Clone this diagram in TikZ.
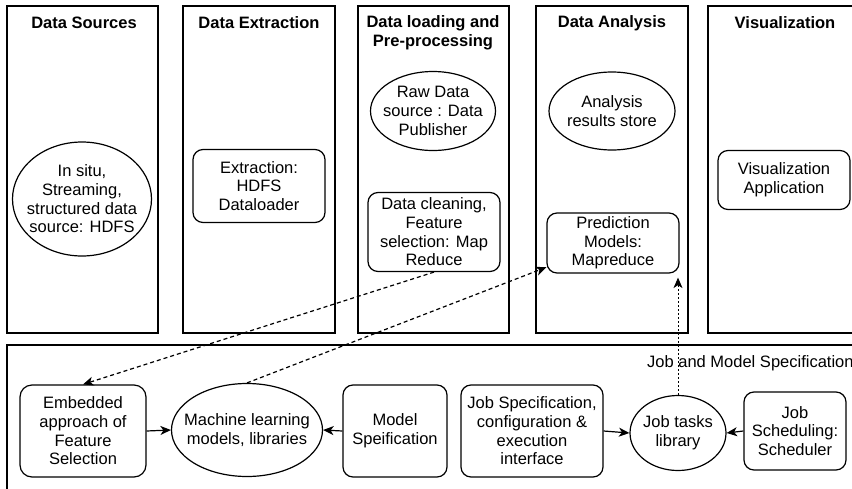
\documentclass[tikz,border=0pt]{standalone}
\usepackage{fontspec}
\setmainfont{Liberation Sans}
\usetikzlibrary{shapes.geometric,arrows.meta}

\newcommand{\colTop}{6}
\newcommand{\colBot}{333}
\newcommand{\jobTop}{345}
\newcommand{\boxThick}{1.2pt}
\newcommand{\txtSize}{\fontsize{16.5}{18.7}\selectfont}

\tikzset{
  colframe/.style={line width=\boxThick, black},
  coltitle/.style={font=\txtSize\bfseries, align=center, inner sep=0pt},
  roundbox/.style={draw, line width=\boxThick, rounded corners=10pt, align=center, font=\txtSize, inner sep=0pt},
  ovalbox/.style={draw, ellipse, line width=\boxThick, align=center, font=\txtSize, inner xsep=-12pt, inner ysep=-4pt},
  flow/.style={line width=\boxThick, -{Stealth[length=10.5pt,width=9pt,inset=3pt]}},
  dashflow/.style={flow, dash pattern=on 4pt off 3pt},
  dotflow/.style={flow, line width=1pt, dash pattern=on 2pt off 2pt},
}

\begin{document}
\begin{tikzpicture}[x=1pt, y=-1pt]
  \useasboundingbox (0,0) rectangle (852,488);
  \clip (0,0) rectangle (852,488);

  % Columns:
  \draw[colframe] (7,\colTop)   rectangle (158,\colBot);
  \draw[colframe] (183,\colTop) rectangle (335,\colBot);
  \draw[colframe] (358,\colTop) rectangle (509,\colBot);
  \draw[colframe] (536,\colTop) rectangle (688,\colBot);
  \draw[colframe] (708,\colTop) rectangle (870,\colBot);

  % Job area:
  \draw[colframe] (7,\jobTop) rectangle (870,500);

  % Titles:
  \node[coltitle] (tSrc)  at (84,23)  {Data Sources};
  \node[coltitle] (tExt)  at (259,23) {Data Extraction};
  \node[coltitle] (tLoad) at (433,33) {Data loading and\\Pre-processing};
  \node[coltitle] (tAna)  at (612,23) {Data Analysis};
  \node[coltitle] (tVis)  at (785,23) {Visualization};

  % Upper nodes:
  \node[ovalbox, minimum width=139pt, minimum height=114pt] (insitu) at (82,199)
    {In situ,\\Streaming,\\structured data\\source: HDFS};
  \node[roundbox, minimum width=132pt, minimum height=73pt] (extract) at (259,186)
    {Extraction:\\HDFS\\Dataloader};
  \node[ovalbox, minimum width=125pt, minimum height=79pt] (raw) at (433,111)
    {Raw Data\\source : Data\\Publisher};
  \node[roundbox, minimum width=132pt, minimum height=79pt] (clean) at (434,232)
    {Data cleaning,\\Feature\\selection: Map\\Reduce};
  \node[ovalbox, minimum width=126pt, minimum height=78pt] (store) at (612,111)
    {Analysis\\results store};
  \node[roundbox, minimum width=132pt, minimum height=60pt] (pred) at (613,243)
    {Prediction\\Models:\\Mapreduce};
  \node[roundbox, minimum width=132pt, minimum height=59pt] (visapp) at (784,180)
    {Visualization\\Application};

  % Job nodes:
  \node[font=\txtSize, anchor=west, inner sep=0pt] (jmLabel) at (647,363) {Job and Model Specification};
  \node[roundbox, minimum width=126pt, minimum height=92pt, rounded corners=12pt] (embed) at (83,431)
    {Embedded\\approach of\\Feature\\Selection};
  \node[ovalbox, minimum width=151pt, minimum height=93pt] (mlm) at (247,430)
    {Machine learning\\models, libraries};
  \node[roundbox, minimum width=104pt, minimum height=92pt] (model) at (395,431)
    {Model\\Speification};
  \node[roundbox, minimum width=142pt, minimum height=92pt] (jspec) at (532,431)
    {Job Specification,\\configuration \&\\execution\\interface};
  \node[ovalbox, minimum width=96pt, minimum height=75pt] (jtl) at (678,433)
    {Job tasks\\library};
  \node[roundbox, minimum width=102pt, minimum height=78pt] (jsched) at (795,431)
    {Job\\Scheduling:\\Scheduler};

  % Connectors:
  \draw[flow] (embed.east) -- (mlm.west);
  \draw[flow] (model.west) -- (mlm.east);
  \draw[flow] (jspec.east) -- (jtl.west);
  \draw[flow] (jsched.west) -- (jtl.east);
  \draw[dashflow] (clean.south) -- (embed.north);
  \draw[dashflow] (mlm.north) -- (pred.200);
  \draw[dotflow, shorten >=4pt] (jtl.north) -- (jtl.north |- pred.south);

\end{tikzpicture}
\end{document}
